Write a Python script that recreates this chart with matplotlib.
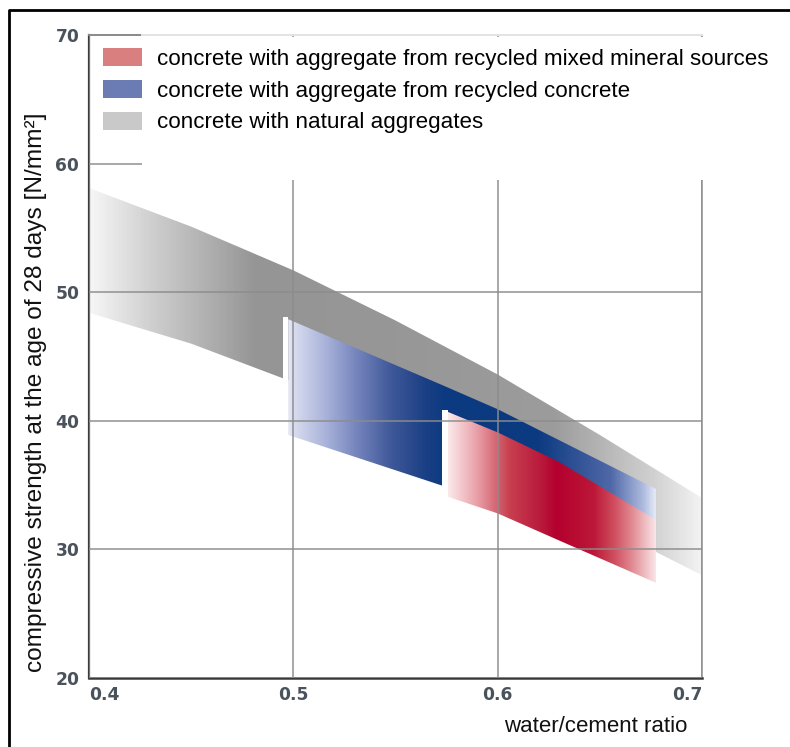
import numpy as np
import matplotlib
matplotlib.use("Agg")
import matplotlib.pyplot as plt
from matplotlib.colors import LinearSegmentedColormap
from matplotlib.patches import Polygon, Patch, Rectangle

# band edges (w/c ratio -> strength in N/mm²)
natural_x = [0.40, 0.45, 0.50, 0.55, 0.60, 0.65, 0.70]
natural_upper = [58.1, 55.1, 51.7, 47.8, 43.6, 38.9, 34.0]
natural_lower = [48.4, 46.0, 43.0, 39.5, 36.0, 32.0, 28.0]

recycled_x = [0.4975, 0.574, 0.60, 0.6775]
recycled_upper = [47.9, 42.7, 40.9, 34.7]
recycled_lower = [38.9, 34.9, 33.4, 29.5]

mixed_x = [0.5755, 0.60, 0.63, 0.6775]
mixed_upper = [40.7, 39.1, 36.8, 32.3]
mixed_lower = [34.1, 32.8, 30.7, 27.4]

legend_labels = ["concrete with aggregate from recycled mixed mineral sources",
                 "concrete with aggregate from recycled concrete",
                 "concrete with natural aggregates"]
legend_colors = ["#da7f80", "#6b7cb4", "#c9c9c9"]

x_ticks = [0.4, 0.5, 0.6, 0.7]
x_ticklabels = ["0.4", "0.5", "0.6", "0.7"]
y_ticks = [20, 30, 40, 50, 60, 70]
y_ticklabels = ["20", "30", "40", "50", "60", "70"]

# horizontal colour ramps (position along band, colour)
natural_ramp = [(0.0, "#f6f6f6"), (0.10, "#cfcfcf"), (0.27, "#959595"),
                (0.50, "#979797"), (0.76, "#9c9c9c"), (0.92, "#d0d0d0"),
                (1.0, "#f3f3f3")]
recycled_ramp = [(0.0, "#e4e7f4"), (0.014, "#d8dcef"), (0.10, "#a9b3da"),
                 (0.19, "#7282bb"), (0.28, "#3e5899"), (0.375, "#1a3f84"),
                 (0.43, "#0b3a80"), (0.68, "#0c3a80"), (0.88, "#5068a8"),
                 (0.97, "#b0bde0"), (1.0, "#e2e8f5")]
mixed_ramp = [(0.0, "#fbe9ea"), (0.137, "#e8a0a8"), (0.29, "#c84050"),
              (0.45, "#b8183a"), (0.52, "#b4002e"), (0.70, "#bc1838"),
              (0.80, "#d05060"), (0.88, "#e08890"), (0.95, "#efc0c5"),
              (1.0, "#fae8ea")]


def draw_band(ax, x, upper, lower, ramp, gap=None):
    if gap:
        # white notch in front of the band
        ax.fill_between([x[0] - gap, x[0]], lower[0], upper[0] + 0.15,
                        color="white", lw=0, zorder=1)
    verts = list(zip(x, upper)) + list(zip(x[::-1], lower[::-1]))
    poly = Polygon(verts, closed=True, facecolor="none", edgecolor="none")
    ax.add_patch(poly)
    cmap = LinearSegmentedColormap.from_list("ramp", ramp)
    grad = np.linspace(0, 1, 600)[None, :]
    im = ax.imshow(grad, cmap=cmap, aspect="auto", interpolation="bilinear",
                   extent=(x[0], x[-1], min(lower), max(upper)),
                   origin="lower", zorder=1)
    im.set_clip_path(poly)


W, H = 790, 747
fig = plt.figure(figsize=(W / 100, H / 100), dpi=100)
ax = fig.add_axes([89 / W, 1 - 678 / H, (702 - 89) / W, (678 - 35) / H])

draw_band(ax, natural_x, natural_upper, natural_lower, natural_ramp)
draw_band(ax, recycled_x, recycled_upper, recycled_lower, recycled_ramp, gap=0.0028)
draw_band(ax, mixed_x, mixed_upper, mixed_lower, mixed_ramp, gap=0.0025)

ax.set_xlim(0.4, 0.7)
ax.set_ylim(20, 70)
ax.set_axisbelow(False)
ax.grid(True, color="#8c8c8c", alpha=0.75, lw=1.4)

tick_font = dict(fontsize=12.3, family="DejaVu Sans", fontweight="bold",
                 color="#4a525b")
ax.set_xticks(x_ticks)
ax.set_xticklabels(x_ticklabels, **tick_font)
ax.set_yticks(y_ticks)
ax.set_yticklabels(y_ticklabels, **tick_font)
ax.tick_params(length=0)
ax.tick_params(axis="x", pad=6)
ax.tick_params(axis="y", pad=7)
xl = ax.get_xticklabels()
xl[0].set_horizontalalignment("left")
xl[-1].set_horizontalalignment("right")

ax.spines["left"].set_color("#3a3a3a")
ax.spines["left"].set_linewidth(1.6)
ax.spines["bottom"].set_color("#3a3a3a")
ax.spines["bottom"].set_linewidth(1.8)
ax.spines["right"].set_color("#a6a6a6")
ax.spines["right"].set_linewidth(1.4)
ax.spines["top"].set_color("#8a8a8a")
ax.spines["top"].set_linewidth(1.4)

# white box behind the legend hides the upper grid
ax.add_patch(Rectangle((0.0865, 0.775), 1.2, 0.222, transform=ax.transAxes,
                       facecolor="white", edgecolor="none", zorder=2.7,
                       clip_on=False))
ax.plot([0.0865, 1.0], [1.0, 1.0], transform=ax.transAxes, color="#e6e6e6",
        lw=1.4, zorder=2.8, clip_on=False)

handles = [Patch(facecolor=c, edgecolor="none") for c in legend_colors]
ax.legend(handles, legend_labels, loc="upper left",
          bbox_to_anchor=(103 / W, 1 - 48 / H), bbox_transform=fig.transFigure,
          frameon=False, borderpad=0, borderaxespad=0,
          handlelength=1.76, handleheight=0.86, handletextpad=0.66,
          labelspacing=0.45, prop={"family": "Liberation Sans", "size": 16.1})

fig.text(36 / W, 1 - 392 / H, "compressive strength at the age of 28 days [N/mm²]",
         rotation=90, ha="center", va="center", fontsize=17.6,
         family="Liberation Sans", color="#111111")
fig.text(687 / W, 1 - 727 / H, "water/cement ratio", ha="right", va="center",
         fontsize=16, family="Liberation Sans", color="#111111")

# outer frame of the picture
fig.add_artist(plt.Line2D([9 / W, 9 / W, 1.0], [0.0, 1 - 10 / H, 1 - 10 / H],
                          transform=fig.transFigure, color="black", lw=2))

fig.savefig("out.png", dpi=100)
